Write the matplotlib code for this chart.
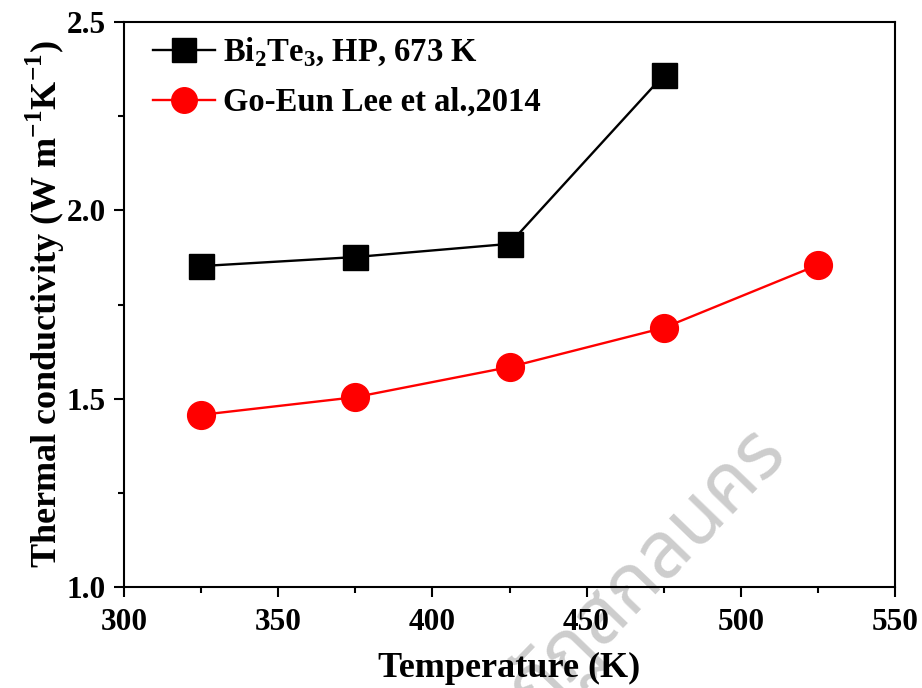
import matplotlib
matplotlib.use("Agg")
import matplotlib.pyplot as plt
from matplotlib.ticker import MultipleLocator

plt.rcParams['font.family'] = ['Liberation Serif', 'DejaVu Serif']
plt.rcParams['font.weight'] = 'bold'
plt.rcParams['mathtext.fontset'] = 'custom'
plt.rcParams['mathtext.rm'] = 'Liberation Serif:bold'
plt.rcParams['mathtext.bf'] = 'Liberation Serif:bold'

temp_bt = [325, 375, 425, 475]
kappa_bt = [1.852, 1.876, 1.911, 2.359]
temp_lee = [325, 375, 425, 475, 525]
kappa_lee = [1.457, 1.504, 1.584, 1.688, 1.855]
label_bt = r"Bi$_\mathregular{2}$Te$_\mathregular{3}$, HP, 673 K"
label_lee = "Go-Eun Lee et al.,2014"
xlabel = "Temperature (K)"
ylabel = r"Thermal conductivity (W m$^\mathregular{-1}$K$^\mathregular{-1}$)"
watermark = "มหาวิทยาลัยราชภัฏสกลนคร"

fig = plt.figure(figsize=(9.22, 6.88), dpi=100)

fig.text(787/922, 1-452/688, watermark, fontsize=56, color='#cdcdcd',
         ha='right', va='baseline', rotation=46, rotation_mode='anchor',
         family=['Noto Sans Thai', 'Loma', 'Garuda', 'DejaVu Sans'],
         fontweight='normal', zorder=-1)

ax = fig.add_axes([124/922, 1-587/688, (895-124)/922, (587-22)/688])
ax.patch.set_alpha(0)

ax.plot(temp_bt, kappa_bt, color='black', lw=1.7, marker='s', ms=18,
        mec='black', mfc='black', label=label_bt)
ax.plot(temp_lee, kappa_lee, color='red', lw=1.7, marker='o', ms=20,
        mec='red', mfc='red', label=label_lee)

ax.set_xlim(300, 550)
ax.set_ylim(1.0, 2.5)
ax.xaxis.set_major_locator(MultipleLocator(50))
ax.xaxis.set_minor_locator(MultipleLocator(25))
ax.yaxis.set_major_locator(MultipleLocator(0.5))
ax.yaxis.set_minor_locator(MultipleLocator(0.25))
ax.tick_params(which='major', direction='out', length=7, width=1.5,
               labelsize=22.5, top=False, right=False)
ax.tick_params(axis='y', which='major', pad=6)
ax.tick_params(axis='x', which='major', pad=8)
ax.tick_params(which='minor', direction='out', length=4, width=1.5,
               top=False, right=False)
for lab in ax.get_xticklabels() + ax.get_yticklabels():
    lab.set_fontweight('bold')
ax.yaxis.set_major_formatter(plt.FormatStrFormatter('%.1f'))
for s in ax.spines.values():
    s.set_linewidth(1.5)

ax.set_xlabel(xlabel, fontsize=26, fontweight='bold', labelpad=11)
ax.set_ylabel(ylabel, fontsize=26, fontweight='bold', labelpad=0)

leg = ax.legend(loc='upper left', bbox_to_anchor=(0.021, 0.999),
                borderaxespad=0, frameon=False,
                handlelength=1.9, handletextpad=0.25, labelspacing=0.55,
                markerscale=0.92,
                prop={'weight': 'bold', 'size': 23.5})

fig.savefig("out.png", dpi=100)
